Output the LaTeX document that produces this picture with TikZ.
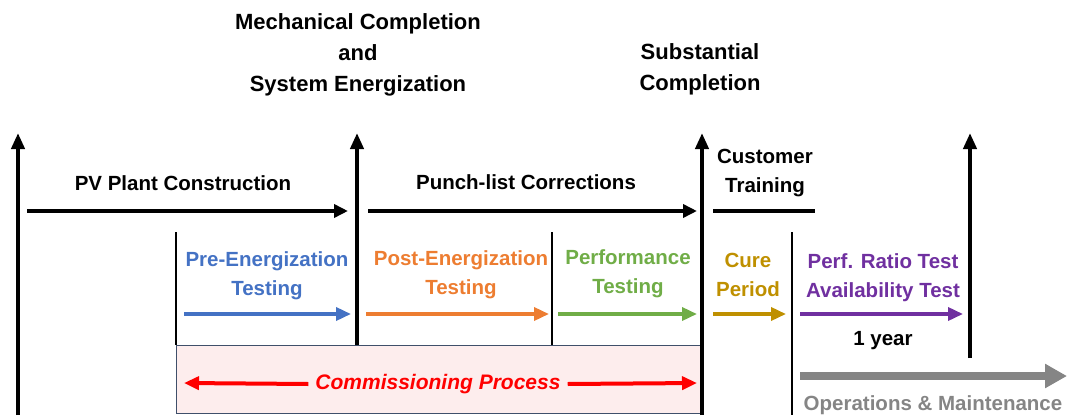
\documentclass[tikz,border=0pt]{standalone}
\usepackage{fontspec}
\setmainfont{Liberation Sans}
\usetikzlibrary{arrows.meta}
\definecolor{preblue}{HTML}{4472C4}
\definecolor{postorange}{HTML}{ED7D31}
\definecolor{perfgreen}{HTML}{70AD47}
\definecolor{curegold}{HTML}{BF9000}
\definecolor{testpurple}{HTML}{7030A0}
\definecolor{omgray}{HTML}{858585}
\definecolor{boxfill}{HTML}{FDEDED}
\definecolor{boxedge}{HTML}{3F4F6A}
\definecolor{commred}{HTML}{FF0000}
\begin{document}
\begin{tikzpicture}[x=1pt,y=-1pt,
  lbl/.style={font=\fontsize{20.5}{29}\selectfont\bfseries, align=center, inner sep=0pt},
  toplbl/.style={font=\fontsize{22}{31}\selectfont\bfseries, align=center, inner sep=0pt},
  milestone/.style={line width=4pt, -{Triangle[length=16pt,width=13pt]}},
  phase/.style={line width=4pt, -{Triangle[length=14pt,width=13pt]}},
  task/.style={line width=3.5pt, -{Triangle[length=15pt,width=13pt]}},
  divider/.style={line width=1.2pt},
]
\useasboundingbox (0,0) rectangle (1068,415);

% commissioning box
\node[draw=boxedge, line width=1.3pt, fill=boxfill, minimum width=526pt, minimum height=68pt,
      anchor=north west, inner sep=0pt] (cbox) at (176,345) {};

% milestone arrows
\coordinate (m0b) at (18,415);   \coordinate (m0t) at (18,133);
\coordinate (m1b) at (357,345);  \coordinate (m1t) at (357,133);
\coordinate (m2b) at (702,415);  \coordinate (m2t) at (702,133);
\coordinate (m3b) at (970,358);  \coordinate (m3t) at (970,133);
\draw[milestone] (m0b) -- (m0t);
\draw[milestone] (m1b) -- (m1t);
\draw[milestone] (m2b) -- (m2t);
\draw[milestone] (m3b) -- (m3t);

% milestone titles
\node[toplbl] (mech) at (358,55) {Mechanical Completion\\and\\System Energization};
\node[toplbl] (subst) at (700,69.5) {Substantial\\Completion};

% phase arrows
\coordinate (p1s) at (27,211);  \coordinate (p1e) at (348,211);
\coordinate (p2s) at (368,211); \coordinate (p2e) at (697,211);
\coordinate (p3s) at (713,211); \coordinate (p3e) at (815,211);
\draw[phase] (p1s) -- (p1e);
\draw[phase] (p2s) -- (p2e);
\draw[line width=4pt] (p3s) -- (p3e);
\node[lbl] (pv) at (183,183) {PV Plant Construction};
\node[lbl] (punch) at (526,182) {Punch-list Corrections};
\node[lbl] (train) at (765,173) {Customer\\Training};

% dividers
\coordinate (d1t) at (176,232); \coordinate (d1b) at (176,345);
\coordinate (d2t) at (552,232); \coordinate (d2b) at (552,345);
\coordinate (d3t) at (792,232); \coordinate (d3b) at (792,415);
\draw[divider] (d1t) -- (d1b);
\draw[divider] (d2t) -- (d2b);
\draw[divider] (d3t) -- (d3b);

% testing activities
\node[lbl, text=preblue] (pre) at (267,276) {Pre-Energization\\Testing};
\node[lbl, text=postorange] (post) at (461,275) {Post-Energization\\Testing};
\node[lbl, text=perfgreen] (perf) at (628,274) {Performance\\Testing};
\node[lbl, text=curegold] (cure) at (748,275) {Cure\\Period};
\node[lbl, text=testpurple] (ratio) at (883,278) {Perf. Ratio Test\\Availability Test};
\node[lbl] (year) at (883,341) {1 year};

\coordinate (a1s) at (184,314); \coordinate (a1e) at (351,314);
\coordinate (a2s) at (366,314); \coordinate (a2e) at (549,314);
\coordinate (a3s) at (558,314); \coordinate (a3e) at (697,314);
\coordinate (a4s) at (713,314); \coordinate (a4e) at (786,314);
\coordinate (a5s) at (800,314); \coordinate (a5e) at (963,314);
\draw[task, preblue] (a1s) -- (a1e);
\draw[task, postorange] (a2s) -- (a2e);
\draw[task, perfgreen] (a3s) -- (a3e);
\draw[task, curegold] (a4s) -- (a4e);
\draw[task, testpurple] (a5s) -- (a5e);

% commissioning process span
\node[lbl, text=commred, font=\fontsize{21}{25}\selectfont\bfseries\itshape, inner sep=7pt] (comm) at (438,384) {Commissioning Process};
\coordinate (cl) at (184,383); \coordinate (cr) at (697,383);
\draw[line width=4pt, commred, -{Triangle[length=15pt,width=13pt]}] (comm.west) -- (cl);
\draw[line width=4pt, commred, -{Triangle[length=15pt,width=13pt]}] (comm.east) -- (cr);

% operations and maintenance
\coordinate (os) at (800,376); \coordinate (oe) at (1067,376);
\draw[line width=8pt, omgray, -{Triangle[length=22pt,width=23pt]}] (os) -- (oe);
\node[lbl, text=omgray] (om) at (933,405) {Operations \& Maintenance};
\end{tikzpicture}
\end{document}
